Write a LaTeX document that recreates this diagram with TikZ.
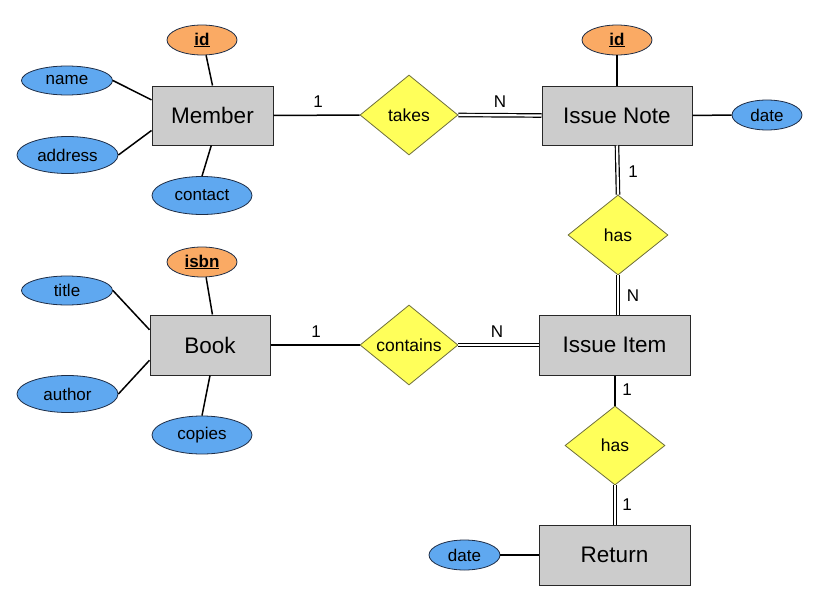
\documentclass[tikz,border=0pt]{standalone}
\usepackage{fontspec}
\setmainfont{Liberation Sans}
\usetikzlibrary{shapes.geometric,calc}
\definecolor{boxfill}{RGB}{204,204,204}
\definecolor{boxline}{RGB}{40,40,40}
\definecolor{attrblue}{RGB}{95,168,240}
\definecolor{keyorange}{RGB}{250,170,100}
\definecolor{relyellow}{RGB}{255,255,90}
\definecolor{relline}{RGB}{110,110,60}
\definecolor{attrline}{RGB}{30,45,70}
\tikzset{
  entity/.style={rectangle,draw=boxline,fill=boxfill,line width=1pt,inner sep=0pt,font=\fontsize{22.5}{26}\selectfont},
  attr/.style={ellipse,draw=attrline,fill=attrblue,line width=0.8pt,inner sep=0pt,minimum width=70pt,minimum height=30pt,font=\fontsize{17}{20}\selectfont},
  keyattr/.style={attr,fill=keyorange,font=\fontsize{17}{20}\selectfont\bfseries},
  rel/.style={diamond,draw=relline,fill=relyellow,line width=0.8pt,inner sep=0pt,minimum width=98pt,minimum height=80pt,font=\fontsize{17.5}{20}\selectfont},
  conn/.style={line width=1.5pt,black},
  dconn/.style={line width=1.2pt,double=white,double distance=2.2pt,black},
  card/.style={inner sep=0pt,font=\fontsize{17}{20}\selectfont}
}
\begin{document}
\begin{tikzpicture}[x=1pt,y=-1pt]
\useasboundingbox (0,0) rectangle (825,613);
\fill[white] (0,0) rectangle (825,613);
% entities
\node[entity,minimum width=121pt,minimum height=59pt] (mem) at (212.5,115.5) {Member};
\node[entity,minimum width=150pt,minimum height=59pt] (note) at (617,115.5) {Issue Note};
\node[entity,minimum width=120pt,minimum height=60pt] (book) at (210,345) {Book};
\node[entity,minimum width=151pt,minimum height=60pt] (item) at (614.5,345) {Issue Item};
\node[entity,minimum width=151pt,minimum height=60pt] (ret) at (614.5,555) {Return};
% relationships
\node[rel] (takes) at (409,115) {takes};
\node[rel,minimum width=100pt] (has1) at (618,235) {has};
\node[rel] (contains) at (409,345) {contains};
\node[rel,minimum width=100pt,minimum height=79pt] (has2) at (615,445.5) {has};
% attributes
\node[keyattr] (mid) at (202,40) {\underline{id}};
\node[attr,minimum width=91pt,minimum height=29pt] (mname) at (67,80.5) {name};
\node[attr,minimum width=101pt,minimum height=37pt] (maddr) at (67.5,155) {address};
\node[attr,minimum width=100pt,minimum height=38pt] (mcont) at (202,195.5) {contact};
\node[keyattr] (nid) at (617,40) {\underline{id}};
\node[attr] (ndate) at (767,115) {date};
\node[keyattr] (isbn) at (202,262) {\underline{isbn}};
\node[attr,minimum width=91pt,minimum height=29pt] (btitle) at (67,290.5) {title};
\node[attr,minimum width=101pt,minimum height=37pt] (bauth) at (67.5,394) {author};
\node[attr,minimum width=100pt,minimum height=38pt] (bcop) at (202,435) {copies};
\node[attr,minimum width=71pt] (rdate) at (464.5,555) {date};
% attribute connectors
\draw[conn] (mid.-75) -- ($(mem.north west)!0.5!(mem.north east)$);
\draw[conn] (mname.east) -- ($(mem.north west)!0.24!(mem.south west)$);
\draw[conn] (maddr.east) -- ($(mem.north west)!0.75!(mem.south west)$);
\draw[conn] (mcont.north) -- ($(mem.south west)!0.49!(mem.south east)$);
\draw[conn] (nid.south) -- (note.north);
\draw[conn] (note.east) -- (ndate.west);
\draw[conn] (isbn.-75) -- ($(book.north west)!0.52!(book.north east)$);
\draw[conn] (btitle.east) -- ($(book.north west)!0.25!(book.south west)$);
\draw[conn] (bauth.east) -- ($(book.north west)!0.75!(book.south west)$);
\draw[conn] (bcop.north) -- ($(book.south west)!0.5!(book.south east)$);
\draw[conn] (rdate.east) -- (ret.west);
% relationship connectors
\draw[conn] (mem.east) -- (takes.west);
\draw[dconn] (takes.east) -- (note.west);
\draw[dconn] (note.south) -- (has1.north);
\draw[dconn] (has1.south) -- (has1.south |- item.north);
\draw[conn] (book.east) -- (contains.west);
\draw[dconn] (contains.east) -- (item.west);
\draw[conn] (has2.north |- item.south) -- (has2.north);
\draw[dconn] (has2.south) -- (has2.south |- ret.north);
% cardinalities
\node[card] (c1) at (318,102) {1};
\node[card] (c2) at (500,102) {N};
\node[card] (c3) at (633,172) {1};
\node[card] (c4) at (633,296) {N};
\node[card] (c5) at (316,332) {1};
\node[card] (c6) at (497,332) {N};
\node[card] (c7) at (627,390) {1};
\node[card] (c8) at (627,505) {1};
\end{tikzpicture}
\end{document}
